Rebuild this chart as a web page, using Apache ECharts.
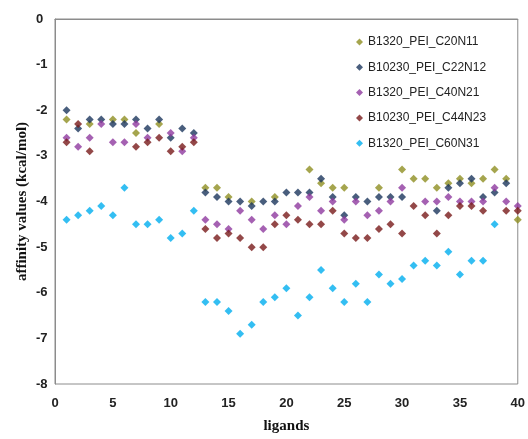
<!DOCTYPE html>
<html>

<head>
    <meta charset="UTF-8">
    <script src="https://cdn.jsdelivr.net/npm/echarts@6/dist/echarts.min.js"></script>
    <style>
        body { margin: 0; background: #fff; }
    </style>
</head>

<body>
    <div id="main" style="width: 528px;height:439px"></div>
    <script>
    // ligand number 1..40, null = not visible in the reference
    var ligands = [];
    for (var i = 1; i <= 40; i++) ligands.push(i);

    var seriesNames = ['B1320_PEI_C20N11', 'B10230_PEI_C22N12', 'B1320_PEI_C40N21', 'B10230_PEI_C44N23', 'B1320_PEI_C60N31'];
    var seriesColors = ['#8e8e22', '#1c365c', '#8f3a9f', '#781a1a', '#00aeef'];

    var c20n11 = [-2.2, null, -2.3, null, -2.2, -2.2, -2.5, null, -2.3, null,
        null, null, -3.7, -3.7, -3.9, null, -4.0, null, -3.9, null,
        null, -3.3, -3.6, -3.7, -3.7, null, null, -3.7, null, -3.3,
        -3.5, -3.5, -3.7, -3.6, -3.5, -3.6, -3.5, -3.3, -3.5, -4.4];
    var c22n12 = [-2.0, -2.4, -2.2, -2.2, -2.3, -2.3, -2.2, -2.4, -2.2, -2.6,
        -2.4, -2.5, -3.8, -3.9, -4.0, -4.0, -4.1, -4.0, -4.0, -3.8,
        -3.8, -3.8, -3.5, -3.9, -4.3, -3.9, -4.0, -3.9, -3.9, -3.9,
        null, null, -4.2, -3.7, -3.6, -3.5, -3.9, -3.8, -3.6, null];
    var c40n21 = [-2.6, -2.8, -2.6, -2.3, -2.7, -2.7, -2.3, -2.6, null, -2.5,
        -2.9, -2.6, -4.4, -4.5, -4.6, -4.2, -4.4, -4.6, -4.3, -4.5,
        -4.1, -3.9, -4.2, -4.0, -4.4, -4.0, -4.3, -4.2, -4.0, -3.7,
        null, -4.0, -4.0, -3.9, -4.0, -4.0, -4.0, -3.7, -4.0, -4.1];
    var c44n23 = [-2.7, -2.3, -2.9, null, null, null, -2.8, -2.7, -2.6, -2.9,
        -2.8, -2.7, -4.6, -4.8, -4.7, -4.8, -5.0, -5.0, -4.5, -4.3,
        -4.4, -4.5, -4.5, -4.2, -4.7, -4.8, -4.8, -4.6, -4.5, -4.7,
        -4.1, -4.3, -4.7, -4.3, -4.1, -4.1, -4.2, null, -4.2, -4.2];
    var c60n31 = [-4.4, -4.3, -4.2, -4.1, -4.3, -3.7, -4.5, -4.5, -4.4, -4.8,
        -4.7, -4.2, -6.2, -6.2, -6.4, -6.9, -6.7, -6.2, -6.1, -5.9,
        -6.5, -6.1, -5.5, -5.9, -6.2, -5.8, -6.2, -5.6, -5.8, -5.7,
        -5.4, -5.3, -5.4, -5.1, -5.6, -5.3, -5.3, -4.5, null, null];

    var allValues = [c20n11, c22n12, c40n21, c44n23, c60n31];

    var series = [];
    for (var s = 0; s < seriesNames.length; s++) {
        var pts = [];
        for (var k = 0; k < ligands.length; k++) {
            if (allValues[s][k] !== null) pts.push([ligands[k], allValues[s][k]]);
        }
        series.push({
            name: seriesNames[s],
            type: 'scatter',
            symbol: 'diamond',
            symbolSize: 8,
            itemStyle: { color: seriesColors[s] },
            data: pts
        });
    }

    var tickFont = { color: '#222', fontSize: 13, fontWeight: 'bold', fontFamily: 'Liberation Sans' };

    var option = {
        animation: false,
        backgroundColor: '#fff',
        grid: {
            left: 55, right: 9, top: 19, bottom: 47,
            show: true, borderColor: '#8c8c8c', borderWidth: 1
        },
        legend: {
            orient: 'vertical',
            left: 351,
            top: 31,
            itemWidth: 7,
            itemHeight: 7,
            itemGap: 13.3,
            icon: 'diamond',
            textStyle: { color: '#222', fontSize: 12, fontFamily: 'Liberation Sans' },
            data: seriesNames
        },
        xAxis: {
            type: 'value',
            min: 0, max: 40, interval: 5,
            name: 'ligands',
            nameLocation: 'middle',
            nameGap: 35,
            nameMoveOverlap: false,
            nameTextStyle: { color: '#111', fontSize: 15, fontWeight: 'bold', fontFamily: 'Liberation Serif' },
            axisLine: { show: true, lineStyle: { color: '#8c8c8c' } },
            axisTick: { show: false },
            splitLine: { show: false },
            axisLabel: Object.assign({ margin: 13 }, tickFont)
        },
        yAxis: {
            type: 'value',
            min: -8, max: 0, interval: 1,
            name: 'affinity values (kcal/mol)',
            nameLocation: 'middle',
            nameGap: 25,
            nameMoveOverlap: false,
            nameTextStyle: { color: '#111', fontSize: 15, fontWeight: 'bold', fontFamily: 'Liberation Serif' },
            axisLine: { show: true, lineStyle: { color: '#8c8c8c' } },
            axisTick: { show: false },
            splitLine: { show: false },
            axisLabel: Object.assign({ margin: 19, align: 'left' }, tickFont)
        },
        series: series
    };

    var myChart = echarts.init(document.getElementById('main'));
    myChart.setOption(option);
    </script>
</body>

</html>
